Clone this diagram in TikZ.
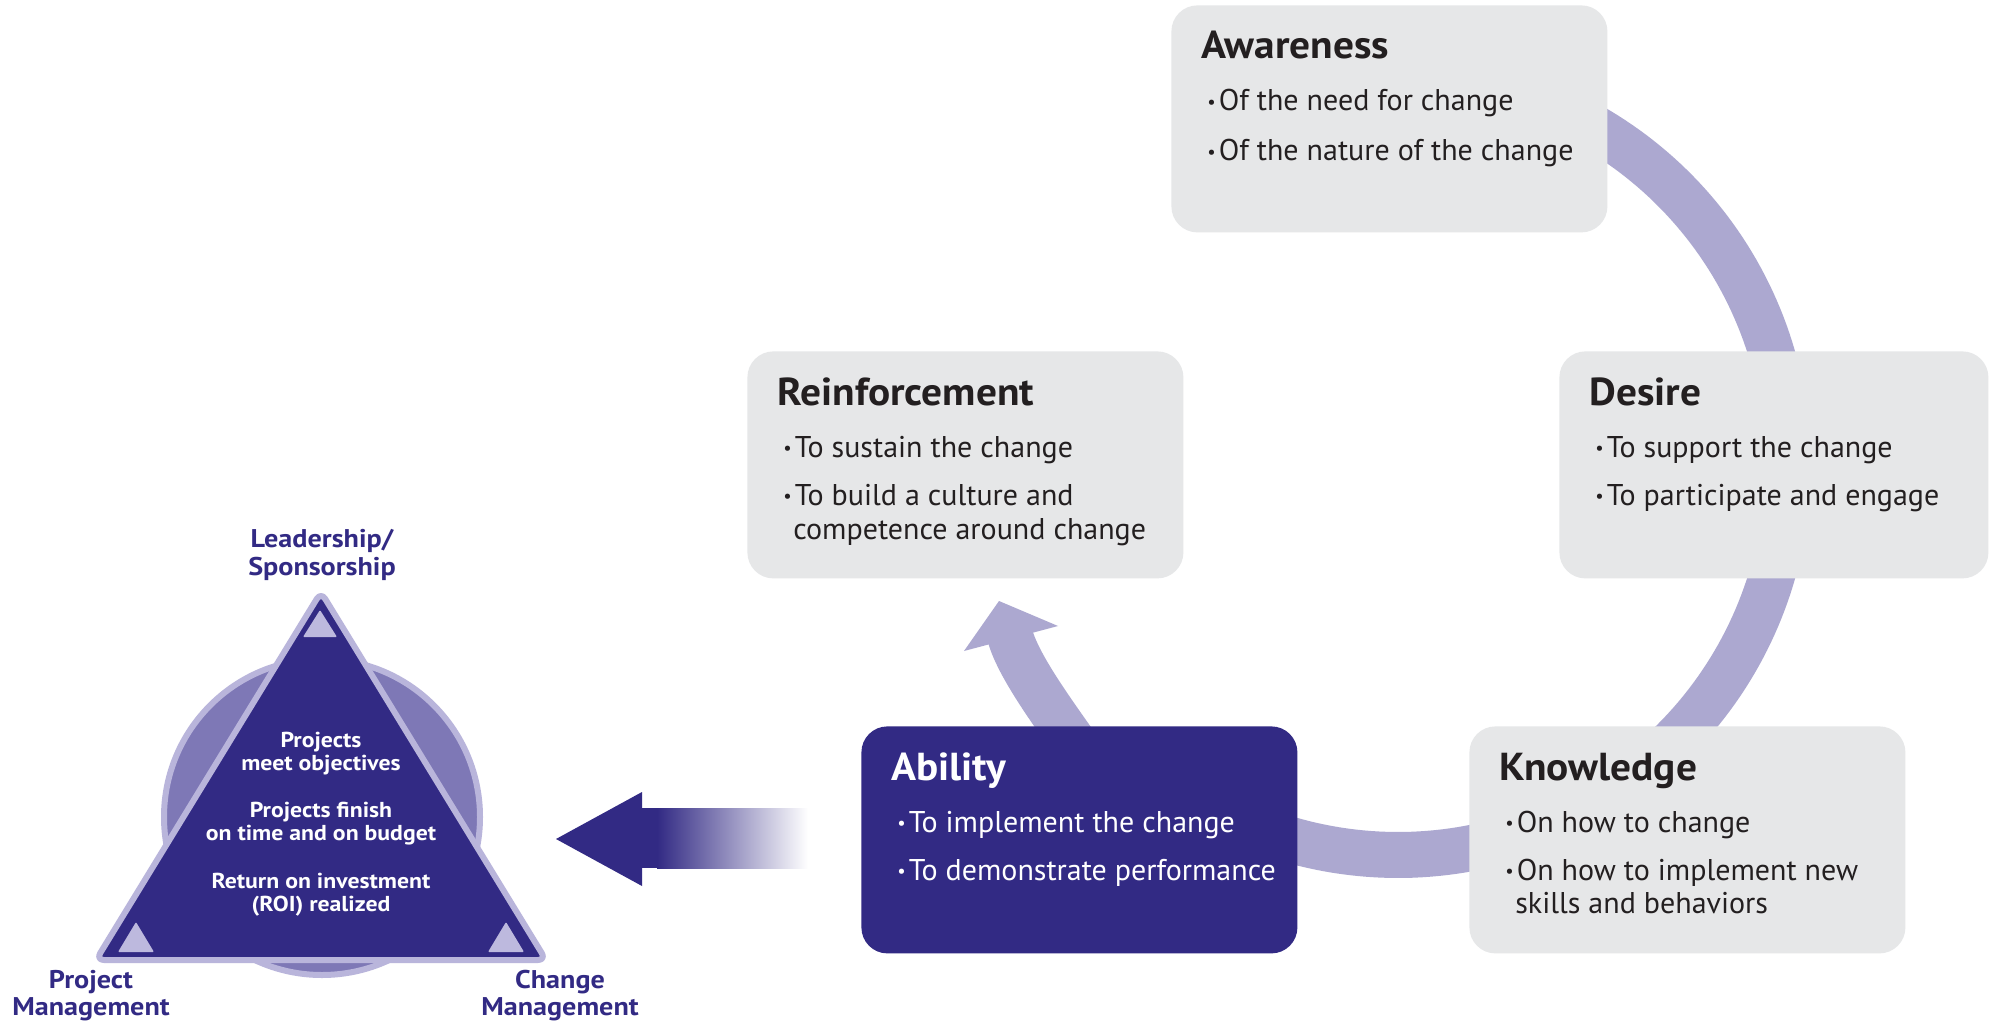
\documentclass[tikz,border=0pt]{standalone}
\usepackage{fontspec}
\setmainfont{PT Sans}
\newfontfamily\titlefont{PT Sans}[FakeStretch=1.06]
\newfontfamily\widefont{PT Sans}[FakeStretch=1.1]
\usetikzlibrary{calc}
\definecolor{dkpurple}{HTML}{322A84}
\definecolor{ringc}{HTML}{ACA8D0}
\definecolor{boxgray}{HTML}{E6E7E8}
\definecolor{txt}{HTML}{231F20}
\definecolor{midpurple}{HTML}{7E78B6}
\definecolor{lavrim}{HTML}{B9B5DB}
\definecolor{smalltri}{HTML}{BDB9DE}
\newcommand{\bul}{\makebox[0.38em][l]{\raisebox{0.08em}{\scalebox{0.62}{•}}}}
\newcommand{\contind}{\hspace*{0.33em}}
\tikzset{
  card/.style={anchor=north west, minimum height=113.5pt, rounded corners=13pt, inner sep=0pt, draw=none},
  graycard/.style={card, fill=boxgray, minimum width=218pt},
  darkcard/.style={card, fill=dkpurple, minimum width=218pt},
  ttl/.style={anchor=base west, inner sep=0pt, text=txt, font=\titlefont\fontsize{19.5}{22}\selectfont\bfseries},
  itm/.style={anchor=base west, inner sep=0pt, text=txt, font=\fontsize{15}{18}\selectfont},
  tri/.style={anchor=base, inner sep=0pt, text=white, font=\widefont\fontsize{10.8}{12}\selectfont\bfseries},
  lbl/.style={anchor=base, inner sep=0pt, text=dkpurple, font=\widefont\fontsize{12.8}{14}\selectfont\bfseries},
  band/.style={draw=ringc, line width=23pt},
}
\begin{document}
\begin{tikzpicture}[x=0.5pt,y=-0.5pt]
\useasboundingbox (0,0) rectangle (1989,1026);
\fill[white] (0,0) rectangle (1989,1026);

% ring
\draw[band] plot[domain=-80:115,samples=160] ({1398+390*cos(\x)},{465+390*sin(\x)});
% curved arrow towards Reinforcement
\coordinate (cs) at (1094,772);
\coordinate (ce) at (1009.5,634);
\draw[band] (cs) .. controls (1067,731) and (1019,671) .. (ce);
\coordinate (tip) at (999,601);
\fill[ringc] (tip) -- (964,651) -- (1058,626) -- cycle;

% boxes
\node[graycard] (aw) at (1171,5) {};
\node[graycard] (re) at (747,351) {};
\node[card, fill=boxgray, minimum width=214.5pt] (de) at (1559,351) {};
\node[graycard] (kn) at (1469,726) {};
\node[darkcard] (ab) at (861,726) {};

% Awareness
\node[ttl] (awt) at ($(aw.north west)+(30,54)$) {Awareness};
\node[itm] (aw1) at ($(aw.north west)+(36,106)$) {\bul Of the need for change};
\node[itm] (aw2) at ($(aw.north west)+(36,156)$) {\bul Of the nature of the change};
% Reinforcement
\node[ttl] (ret) at ($(re.north west)+(30,54)$) {Reinforcement};
\node[itm] (re1) at ($(re.north west)+(36,106)$) {\bul To sustain the change};
\node[itm] (re2) at ($(re.north west)+(36,154)$) {\bul To build a culture and};
\node[itm] (re3) at ($(re.north west)+(36,188)$) {\contind competence around change};
% Desire
\node[ttl] (det) at ($(de.north west)+(30,54)$) {Desire};
\node[itm] (de1) at ($(de.north west)+(36,106)$) {\bul To support the change};
\node[itm] (de2) at ($(de.north west)+(36,154)$) {\bul To participate and engage};
% Knowledge
\node[ttl] (knt) at ($(kn.north west)+(30,54)$) {Knowledge};
\node[itm] (kn1) at ($(kn.north west)+(36,106)$) {\bul On how to change};
\node[itm] (kn2) at ($(kn.north west)+(36,154)$) {\bul On how to implement new};
\node[itm] (kn3) at ($(kn.north west)+(36,187)$) {\contind skills and behaviors};
% Ability
\node[ttl, text=white] (abt) at ($(ab.north west)+(30,54)$) {Ability};
\node[itm, text=white] (ab1) at ($(ab.north west)+(36,106)$) {\bul To implement the change};
\node[itm, text=white] (ab2) at ($(ab.north west)+(36,154)$) {\bul To demonstrate performance};

% big left arrow
\fill[dkpurple] (556,839) -- (642,792) -- (642,886) -- cycle;
\fill[dkpurple] (640,808) rectangle (658,868);
\shade[left color=dkpurple, right color=white] (657,808) rectangle (808,868);

% triangle model
\draw[fill=midpurple, draw=lavrim, line width=3pt] (322,817) circle[radius=79pt];
\draw[fill=dkpurple, draw=lavrim, line width=3pt, rounded corners=4pt, line join=round]
  (321,592) -- (96,960) -- (546,960) -- cycle;
\fill[smalltri, rounded corners=0.5pt] (320,610) -- (303,637) -- (337,637) -- cycle;
\fill[smalltri, rounded corners=0.5pt] (136,922) -- (118,952) -- (154,952) -- cycle;
\fill[smalltri, rounded corners=0.5pt] (506,922) -- (488,952) -- (524,952) -- cycle;

\node[tri] (t1a) at (321,747) {Projects};
\node[tri] (t1b) at (321,770) {meet objectives};
\node[tri] (t2a) at (321,817) {Projects finish};
\node[tri] (t2b) at (321,840) {on time and on budget};
\node[tri] (t3a) at (321,888) {Return on investment};
\node[tri] (t3b) at (321,911) {(ROI) realized};

\node[lbl] (ls1) at (322,547) {Leadership/};
\node[lbl] (ls2) at (322,575) {Sponsorship};
\node[lbl] (pm1) at (91,988) {Project};
\node[lbl] (pm2) at (91,1015) {Management};
\node[lbl] (cm1) at (560,988) {Change};
\node[lbl] (cm2) at (560,1015) {Management};
\end{tikzpicture}
\end{document}
